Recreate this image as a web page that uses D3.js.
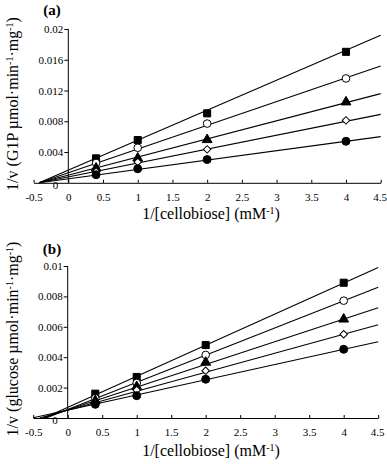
<!DOCTYPE html>
<html><head><meta charset="utf-8">
<script src="https://cdn.jsdelivr.net/npm/d3@7"></script>
<style>html,body{margin:0;padding:0;background:#fff;}svg{display:block;}</style>
</head><body>
<script>
// ---- data ----
const xValues = [0.4, 1, 2, 4];
const markerTypes = ["square", "openCircle", "triangle", "openDiamond", "filledCircle"];

// panel (a): 1/v (G1P)
const aSquare = [0.00318, 0.00556, 0.00903, 0.01703];
const aOpenCircle = [0.00258, 0.00455, 0.00770, 0.01357];
const aTriangle = [0.00190, 0.00320, 0.00560, 0.01050];
const aOpenDiamond = [0.00146, 0.00270, 0.00435, 0.00812];
const aFilledCircle = [0.00105, 0.00183, 0.00302, 0.00540];
const aLineIntercept = [0.00164, 0.00130, 0.00099, 0.00076, 0.00051];
const aLineEnd = [0.0192, 0.0152, 0.0116, 0.0089, 0.0060];

// panel (b): 1/v (glucose)
const bSquare = [0.00160, 0.00270, 0.00480, 0.00890];
const bOpenCircle = [0.00130, 0.00230, 0.00415, 0.00772];
const bTriangle = [0.00114, 0.00206, 0.00366, 0.00650];
const bOpenDiamond = [0.00100, 0.00184, 0.00311, 0.00551];
const bFilledCircle = [0.00090, 0.00147, 0.00255, 0.00452];
const bLineIntercept = [0.00070, 0.00056, 0.00054, 0.00051, 0.00052];
const bLineEnd = [0.0099, 0.0086, 0.00725, 0.00614, 0.00502];

const xTicks = [-0.5, 0, 0.5, 1, 1.5, 2, 2.5, 3, 3.5, 4, 4.5];
const xTickLabels = ["-0.5", "0", "0.5", "1", "1.5", "2", "2.5", "3", "3.5", "4", "4.5"];
const aYTicks = [0.004, 0.008, 0.012, 0.016, 0.02];
const aYTickLabels = ["0.004", "0.008", "0.012", "0.016", "0.02"];
const bYTicks = [0.002, 0.004, 0.006, 0.008, 0.01];
const bYTickLabels = ["0.002", "0.004", "0.006", "0.008", "0.01"];

const xDomain = [-0.5, 4.5];
const xLineEnd = 4.5;

// ---- drawing ----
const W = 387, H = 464;
const FONT = "'Liberation Serif','Times New Roman',serif";
const svg = d3.select("body").append("svg").attr("width", W).attr("height", H)
  .style("font-family", FONT);
svg.append("rect").attr("width", W).attr("height", H).attr("fill", "#fff");

function drawPanel(cfg) {
  const x = d3.scaleLinear().domain(xDomain).range(cfg.xRange);
  const y = d3.scaleLinear().domain(cfg.yDomain).range(cfg.yRange);
  const g = svg.append("g");

  // x axis (ticks pointing up)
  const xAxis = d3.axisBottom(x).tickValues(xTicks)
    .tickFormat((d, i) => xTickLabels[i]).tickSizeInner(-3).tickSizeOuter(0).tickPadding(10);
  const gx = g.append("g").attr("transform", `translate(0,${y(0)})`).call(xAxis)
    .attr("font-family", null).attr("font-size", null);
  gx.selectAll("text").style("font-size", "11px").style("font-family", FONT).attr("fill", "#000");
  gx.selectAll(".tick").filter(d => d === 4.5).select("text").attr("dx", "-1");
  gx.select(".domain").attr("stroke", "#000");
  gx.selectAll(".tick line").attr("stroke", "#000");

  // y axis
  const yAxis = d3.axisLeft(y).tickValues(cfg.yTicks)
    .tickFormat((d, i) => cfg.yTickLabels[i]).tickSizeInner(4).tickSizeOuter(0).tickPadding(1);
  const gy = g.append("g").attr("transform", `translate(${x(0)},0)`).call(yAxis)
    .attr("font-family", null).attr("font-size", null);
  gy.select(".domain").attr("d", `M0,${y(0)}V${y(cfg.yDomain[1])}`).attr("stroke", "#000");
  gy.selectAll("text").style("font-size", "11px").style("font-family", FONT).attr("fill", "#000");
  gy.selectAll(".tick line").attr("stroke", "#000");
  // zero label
  g.append("text").attr("x", x(0) - 10).attr("y", y(0) + 2).attr("dy", "0.35em")
    .attr("text-anchor", "end").style("font-size", "11px").text("0");

  // regression lines
  cfg.intercepts.forEach((b0, i) => {
    const slope = (cfg.ends[i] - b0) / xLineEnd;
    const xi = -b0 / slope;
    const x0 = Math.max(xDomain[0], xi);
    const y0 = b0 + slope * x0;
    g.append("line")
      .attr("x1", x(x0)).attr("y1", y(y0))
      .attr("x2", x(xLineEnd)).attr("y2", y(cfg.ends[i]))
      .attr("stroke", "#000").attr("stroke-width", 1.1);
  });

  // markers
  cfg.series.forEach((vals, si) => {
    const type = markerTypes[si];
    vals.forEach((v, j) => {
      const px = x(xValues[j]), py = y(v);
      let sym, fill = "#000", rot = 0;
      if (type === "square") sym = d3.symbol(d3.symbolSquare, 50);
      else if (type === "openCircle") { sym = d3.symbol(d3.symbolCircle, 46); fill = "#fff"; }
      else if (type === "triangle") sym = d3.symbol(d3.symbolTriangle, 42);
      else if (type === "openDiamond") { sym = d3.symbol(d3.symbolSquare, 28); fill = "#fff"; rot = 45; }
      else sym = d3.symbol(d3.symbolCircle, 50);
      g.append("path").attr("d", sym())
        .attr("transform", `translate(${px},${py}) rotate(${rot})`)
        .attr("fill", fill).attr("stroke", "#000").attr("stroke-width", 1);
    });
  });

  // panel title
  g.append("text").attr("x", cfg.titlePos[0]).attr("y", cfg.titlePos[1])
    .attr("text-anchor", "middle").style("font-size", "15px").style("font-weight", "bold").text(cfg.title);

  // x label
  const xl = g.append("text").attr("x", cfg.xLabelPos[0]).attr("y", cfg.xLabelPos[1])
    .attr("text-anchor", "middle").style("font-size", "16px");
  xl.append("tspan").text("1/[cellobiose] (mM");
  xl.append("tspan").attr("baseline-shift", "super").style("font-size", "10px").text("-1");
  xl.append("tspan").text(")");

  // y label
  const yl = g.append("text").attr("transform", `translate(${cfg.yLabelPos[0]},${cfg.yLabelPos[1]}) rotate(-90)`)
    .attr("text-anchor", "middle").style("font-size", cfg.yLabelSize + "px");
  yl.append("tspan").text(cfg.yLabelStart);
  yl.append("tspan").attr("baseline-shift", "super").style("font-size", "10px").text("-1");
  yl.append("tspan").text("·mg");
  yl.append("tspan").attr("baseline-shift", "super").style("font-size", "10px").text("-1");
  yl.append("tspan").text(")");
}

drawPanel({
  xRange: [33.6, 380.7], yDomain: [0, 0.02], yRange: [182.8, 29],
  yTicks: aYTicks, yTickLabels: aYTickLabels,
  series: [aSquare, aOpenCircle, aTriangle, aOpenDiamond, aFilledCircle],
  intercepts: aLineIntercept, ends: aLineEnd,
  title: "(a)", titlePos: [52, 15],
  xLabelPos: [211, 219],
  yLabelPos: [18, 104], yLabelSize: 16, yLabelStart: "1/v (G1P µmol·min"
});

drawPanel({
  xRange: [33.2, 378.2], yDomain: [0, 0.01], yRange: [418, 266],
  yTicks: bYTicks, yTickLabels: bYTickLabels,
  series: [bSquare, bOpenCircle, bTriangle, bOpenDiamond, bFilledCircle],
  intercepts: bLineIntercept, ends: bLineEnd,
  title: "(b)", titlePos: [52, 254],
  xLabelPos: [211, 456],
  yLabelPos: [18, 339], yLabelSize: 16, yLabelStart: "1/v (glucose µmol·min"
});
</script>
</body></html>
